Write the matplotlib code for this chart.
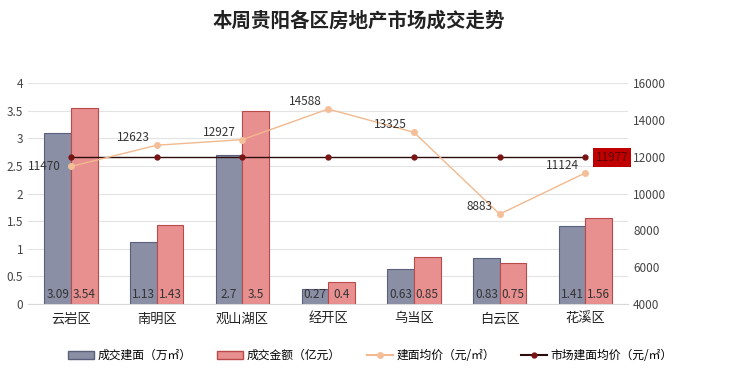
import numpy as np
import matplotlib.pyplot as plt
from matplotlib.lines import Line2D
from matplotlib.patches import Patch

plt.rcParams['font.family'] = ['Noto Sans CJK SC', 'DejaVu Sans']

districts = ['云岩区', '南明区', '观山湖区', '经开区', '乌当区', '白云区', '花溪区']
area = [3.09, 1.13, 2.7, 0.27, 0.63, 0.83, 1.41]
amount = [3.54, 1.43, 3.5, 0.4, 0.85, 0.75, 1.56]
area_labels = ['3.09', '1.13', '2.7', '0.27', '0.63', '0.83', '1.41']
amount_labels = ['3.54', '1.43', '3.5', '0.4', '0.85', '0.75', '1.56']
price = [11470, 12623, 12927, 14588, 13325, 8883, 11124]
market_avg = [11977] * 7

fig = plt.figure(figsize=(7.4, 3.74), dpi=100)
ax = fig.add_axes([0.038, 0.187, 0.811, 0.591])
ax2 = ax.twinx()

x = np.arange(len(districts))
w = 0.31
ax.bar(x - w/2, area, w, color='#8a8fa6', edgecolor='#5b607a', linewidth=0.8, zorder=2)
ax.bar(x + w/2, amount, w, color='#e88f8f', edgecolor='#b84a4a', linewidth=0.8, zorder=2)
for i in range(len(x)):
    ax.text(x[i] - w/2, 0.05, area_labels[i], ha='center', va='bottom', fontsize=8.5, color='#333333', zorder=3)
    ax.text(x[i] + w/2, 0.05, amount_labels[i], ha='center', va='bottom', fontsize=8.5, color='#333333', zorder=3)

ax.set_ylim(0, 4)
ax.set_yticks(np.arange(0, 4.01, 0.5))
ax.set_yticklabels(['0', '0.5', '1', '1.5', '2', '2.5', '3', '3.5', '4'])
ax.set_xlim(-0.5, len(x) - 0.5)
ax.set_xticks(x)
ax.set_xticklabels(districts)
ax.grid(axis='y', color='#e3e3e3', linewidth=0.8, zorder=0)
ax.set_axisbelow(True)

ax2.set_ylim(4000, 16000)
ax2.set_yticks(np.arange(4000, 16001, 2000))
ax2.plot(x, market_avg, color='#2b0d0d', linewidth=1, marker='o', markersize=3.5,
         markerfacecolor='#7a1414', markeredgecolor='#7a1414', zorder=4)
ax2.plot(x, price, color='#f2b98e', linewidth=1, marker='o', markersize=4,
         markerfacecolor='#f4bf98', markeredgecolor='#f4bf98', zorder=5)
for i in range(len(x)):
    if i == 0:
        ax2.text(x[i] - 0.12, price[i] + 20, str(price[i]), ha='right', va='center', fontsize=8.5, color='#333333', zorder=6)
    else:
        ax2.text(x[i] - 0.08, price[i] + 50, str(price[i]), ha='right', va='bottom', fontsize=8.5, color='#333333', zorder=6)
ax2.text(x[-1] + 0.12, market_avg[-1], str(market_avg[-1]), ha='left', va='center', fontsize=8.5,
         color='#5a0000', zorder=6, bbox=dict(boxstyle='square,pad=0.25', facecolor='#c00000', edgecolor='none'))

for a in (ax, ax2):
    for s in a.spines.values():
        s.set_visible(False)
    a.tick_params(length=0, labelsize=8.5, colors='#444444')
ax.tick_params(axis='x', labelsize=9.5, colors='#222222', pad=6)
ax.spines['bottom'].set_visible(True)
ax.spines['bottom'].set_color('#d9d9d9')

fig.suptitle('本周贵阳各区房地产市场成交走势', x=0.485, y=0.97, fontsize=14, fontweight='bold', color='#222222')

handles = [
    Patch(facecolor='#8a8fa6', edgecolor='#5b607a'),
    Patch(facecolor='#e88f8f', edgecolor='#b84a4a'),
    Line2D([0], [0], color='#f2b98e', marker='o', markersize=4, markerfacecolor='#f4bf98', markeredgecolor='#f4bf98'),
    Line2D([0], [0], color='#2b0d0d', marker='o', markersize=3.5, markerfacecolor='#7a1414', markeredgecolor='#7a1414'),
]
labels = ['成交建面（万㎡）', '成交金额（亿元）', '建面均价（元/㎡）', '市场建面均价（元/㎡）']
fig.legend(handles, labels, loc='center', bbox_to_anchor=(0.5, 0.05), ncol=4, frameon=False,
           fontsize=8.5, handlelength=2.2, handleheight=0.7, columnspacing=2.2, handletextpad=0.3)

plt.savefig('out.png', dpi=100)
